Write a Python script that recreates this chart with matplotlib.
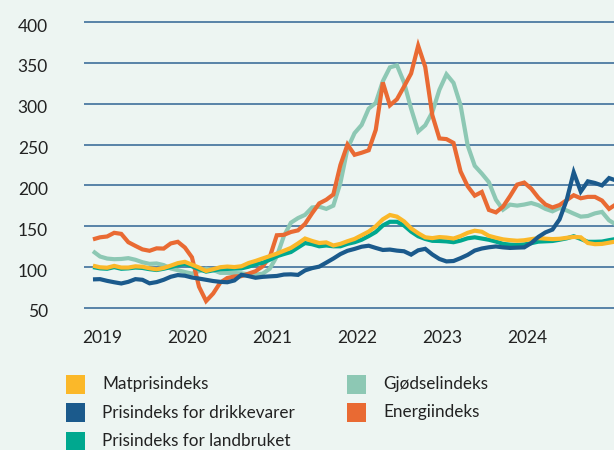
import numpy as np
import matplotlib.pyplot as plt
from matplotlib.patches import Rectangle
from matplotlib.transforms import ScaledTranslation

# ---------------------------------------------------------------------------
# Data: monthly index values (first point = Jan 2019)
# ---------------------------------------------------------------------------
years = ["2019", "2020", "2021", "2022", "2023", "2024"]

matpris = [101.8, 99.8, 99.3, 101.5, 99.5, 99.5, 101, 100.5, 98.6, 97.3,
           99, 101.8, 104.9, 106.5, 103, 99.5, 95.3, 97.5, 99.9, 100.7,
           100.1, 101.1, 105, 107.6, 110.6, 113.5, 116.5, 120, 123.5, 129,
           135, 132, 129.5, 130.3, 126.5, 128.5, 131.7, 134.5, 139, 143.5,
           150, 158.5, 163.8, 161.8, 156, 147.5, 141.5, 136.5, 135.5, 136.8,
           136.2, 135, 138, 142, 144.6, 143.3, 138.3, 136, 134, 133,
           132.3, 132.9, 134.3, 135.5, 134.8, 134.3, 134.7, 135.9, 137, 136.5,
           129.5, 128.1, 128.4, 129.9, 131.5]

drikkevarer = [85, 85.3, 83.2, 81.5, 80, 82, 85.3, 84.5, 80.2, 81.7,
               84.5, 88.2, 90.3, 89.5, 87.3, 86, 84.5, 83, 82, 81.5,
               83.7, 90.6, 89, 87, 88.1, 88.7, 89.2, 90.9, 91.2, 90.5,
               96, 98.8, 100.6, 105.5, 110.5, 116, 120, 122.3, 125, 126.2,
               123.5, 121, 121.5, 120.2, 119.4, 115.3, 120.6, 122.4, 115.5, 110,
               107, 107.5, 111, 115, 120.3, 122.8, 124.3, 125.3, 124.2, 123.5,
               123.9, 124.2, 129.5, 137, 142.5, 146, 158.5, 182, 216, 192.5,
               205, 203, 200, 209, 206]

landbruket = [100, 98.5, 98, 100, 98, 98.5, 99.5, 99, 97.5, 96.5,
              98, 100, 102.5, 104, 101, 97.5, 94.5, 96, 97.5, 97.8,
              98.2, 98.5, 100.5, 103.5, 105.3, 109, 113.3, 116, 118.5, 124,
              129.5, 128, 125.5, 126.5, 125.5, 125.5, 128.5, 130.5, 133.5, 138,
              143, 151, 155.5, 155.5, 151, 143.5, 137.8, 134.5, 132.2, 132,
              131.5, 130.5, 132.5, 135.3, 136.5, 135, 133.5, 131.3, 128.5, 127.5,
              127, 127.8, 129.3, 131.2, 131.6, 132, 133.5, 135.2, 137.8, 134.5,
              131, 131, 131.3, 133, 134.5]

gjodsel = [119.5, 113, 110.5, 109.7, 110, 111, 109, 106, 104, 104.5,
           102.5, 98.4, 96.3, 94, 92, 95, 98, 96.5, 93, 93,
           92.8, 92.4, 91.3, 90.8, 92, 98, 113, 138, 154.4, 160,
           164, 173, 174, 171.3, 175.3, 203, 245, 264, 274, 294,
           301, 327.5, 344.5, 347, 326, 294, 266, 273.6, 289.6, 317,
           336, 325.5, 298, 249, 224, 214.5, 204, 182.5, 170.3, 176.5,
           175.3, 176.6, 178.5, 175.8, 171.3, 168.3, 172.4, 169.4, 165.5, 161.8,
           162.6, 165.8, 167.6, 157.3, 152]

energi = [134, 136.5, 137.5, 142, 140.7, 130.5, 126, 121.7, 120, 123,
          122.7, 129, 131, 124, 112, 76, 58.5, 67.7, 81, 86.7,
          88.5, 89, 92, 95, 101, 112, 139, 139.5, 143, 145,
          153, 166, 178, 182.5, 189, 225, 250, 237.5, 240, 243,
          268, 326, 298, 305.5, 321, 337, 371, 345, 286, 257.5,
          256.7, 252, 217, 199, 187.5, 192, 170, 167, 174, 187,
          201, 203.5, 196, 185, 176.7, 173, 176, 182, 188, 184.3,
          186, 186, 181.5, 171.3, 177]

names = ["Matprisindeks", "Prisindeks for drikkevarer", "Prisindeks for landbruket",
         "Gjødselindeks", "Energiindeks"]
series = [matpris, drikkevarer, landbruket, gjodsel, energi]
colors = ["#FBB829", "#1B5A8C", "#00A88F", "#8DC8B4", "#E96A33"]
zorders = [5, 6, 4, 2, 3]

bg = "#EDF5F2"
grid_color = "#3E6F9B"
text_color = "#222222"

plt.rcParams["font.family"] = ["Lato", "DejaVu Sans"]

fig = plt.figure(figsize=(6.14, 4.5), dpi=100, facecolor=bg)
ax = fig.add_axes([0.1368, 0.2938, 0.8632, 0.6718])
ax.set_facecolor(bg)

months = np.arange(len(matpris))
for vals, color, z in zip(series, colors, zorders):
    ax.plot(months, vals, color=color, linewidth=3, zorder=z,
            solid_joinstyle="miter", solid_capstyle="butt")

ax.set_xlim(-1.27, 73.7)
ax.set_ylim(38, 408)

ax.set_yticks(np.arange(50, 401, 50))
ax.grid(axis="y", color=grid_color, linewidth=1.2, zorder=0)
ax.set_axisbelow(True)

ax.set_xticks(np.arange(len(years)) * 12 + 1.37)
ax.set_xticklabels(years)

ax.tick_params(axis="both", length=0, labelsize=12.5, colors=text_color)
ax.tick_params(axis="y", pad=26)
ax.tick_params(axis="x", pad=9)
for s in ax.spines.values():
    s.set_visible(False)

# y labels sit a little below their grid lines in the original
shift = ScaledTranslation(0, -3 / 100, fig.dpi_scale_trans)
for lab in ax.get_yticklabels():
    lab.set_transform(lab.get_transform() + shift)

# Legend: two columns of coloured squares with labels
col_x = [66, 347]
row_y = [384, 412.5, 441]
W, H = 614, 450
for i, (name, color) in enumerate(zip(names, colors)):
    col = 0 if i < 3 else 1
    row = i if i < 3 else i - 3
    x0 = col_x[col]
    yc = row_y[row]
    fig.add_artist(Rectangle((x0 / W, 1 - (yc + 9.5) / H), 19 / W, 19 / H,
                             transform=fig.transFigure, facecolor=color,
                             edgecolor="none"))
    fig.text((x0 + 36) / W, 1 - yc / H, name, fontsize=12.3,
             color=text_color, va="center", ha="left")

fig.savefig("out.png", dpi=100, facecolor=bg)
